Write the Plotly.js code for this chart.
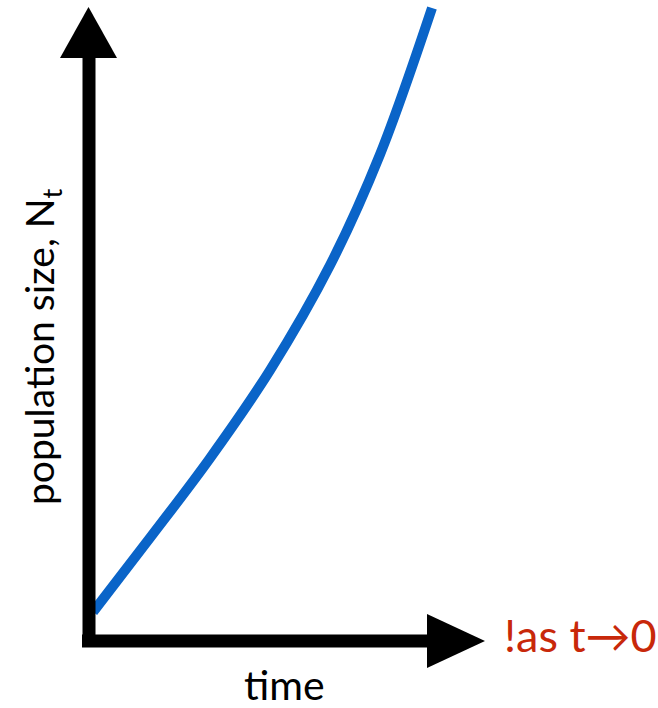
<!DOCTYPE html>
<html>
<head>
<meta charset="utf-8">
<script src="https://cdn.plot.ly/plotly-3.0.1.min.js"></script>
<style>
  html, body { margin: 0; padding: 0; background: #ffffff; }
  #chart { width: 658px; height: 708px; }
</style>
</head>
<body>
<div id="chart"></div>
<script>
// Data (arbitrary units)
const timeValues = [0.12, 1.78, 3.53, 5.28, 7.03, 8.48, 10.0];
const populationValues = [4.6, 16.3, 28.9, 42.8, 59.4, 76.8, 100.0];

const xTitle = "time";
const yTitle = "population size, N<sub>t</sub>";
const noteText = "!as t\u21920";

const W = 658, H = 708;
// pixel mapping helpers (layout only)
const x0px = 89, kx = 34.3;   // t=0 at px 89
const y0px = 641, ky = 6.33;  // N=0 at px 641
const tx = px => (px - x0px) / kx;
const ny = py => (y0px - py) / ky;

const trace = {
  x: timeValues,
  y: populationValues,
  type: "scatter",
  mode: "lines",
  line: { color: "#0a64c8", width: 10, shape: "spline", smoothing: 1 },
  hoverinfo: "skip"
};

const shapes = [
  { type: "line", xref: "x", yref: "y", x0: 0, x1: 0, y0: ny(647), y1: ny(56),
    line: { color: "#000", width: 13 } },
  { type: "line", xref: "x", yref: "y", x0: tx(82), x1: tx(430), y0: 0, y1: 0,
    line: { color: "#000", width: 13 } },
  { type: "path", xref: "x", yref: "y",
    path: `M ${tx(60)} ${ny(58)} L ${tx(117)} ${ny(58)} L ${tx(88.5)} ${ny(7)} Z`,
    fillcolor: "#000", line: { width: 0 } },
  { type: "path", xref: "x", yref: "y",
    path: `M ${tx(427)} ${ny(614)} L ${tx(427)} ${ny(668)} L ${tx(485)} ${ny(641)} Z`,
    fillcolor: "#000", line: { width: 0 } }
];

const font = "Lato, 'Open Sans', sans-serif";
const annotations = [
  { text: yTitle, xref: "paper", yref: "paper", x: 42 / W, y: 1 - 347 / H,
    xanchor: "center", yanchor: "middle", showarrow: false, textangle: -90,
    font: { family: font, size: 39, color: "#000" } },
  { text: xTitle, xref: "paper", yref: "paper", x: 284.5 / W, y: 1 - 684 / H,
    xanchor: "center", yanchor: "middle", showarrow: false,
    font: { family: font, size: 41, color: "#000" } },
  { text: noteText, xref: "paper", yref: "paper", x: 502 / W, y: 1 - 635 / H,
    xanchor: "left", yanchor: "middle", showarrow: false,
    font: { family: font, size: 45, color: "#c8280a" } }
];

const layout = {
  width: W, height: H,
  margin: { l: 0, r: 0, t: 0, b: 0, pad: 0 },
  paper_bgcolor: "#ffffff", plot_bgcolor: "#ffffff",
  showlegend: false,
  xaxis: { range: [tx(0), tx(W)], visible: false, fixedrange: true },
  yaxis: { range: [ny(H), ny(0)], visible: false, fixedrange: true },
  shapes: shapes,
  annotations: annotations
};

Plotly.newPlot("chart", [trace], layout, { staticPlot: true, displayModeBar: false });
</script>
</body>
</html>
